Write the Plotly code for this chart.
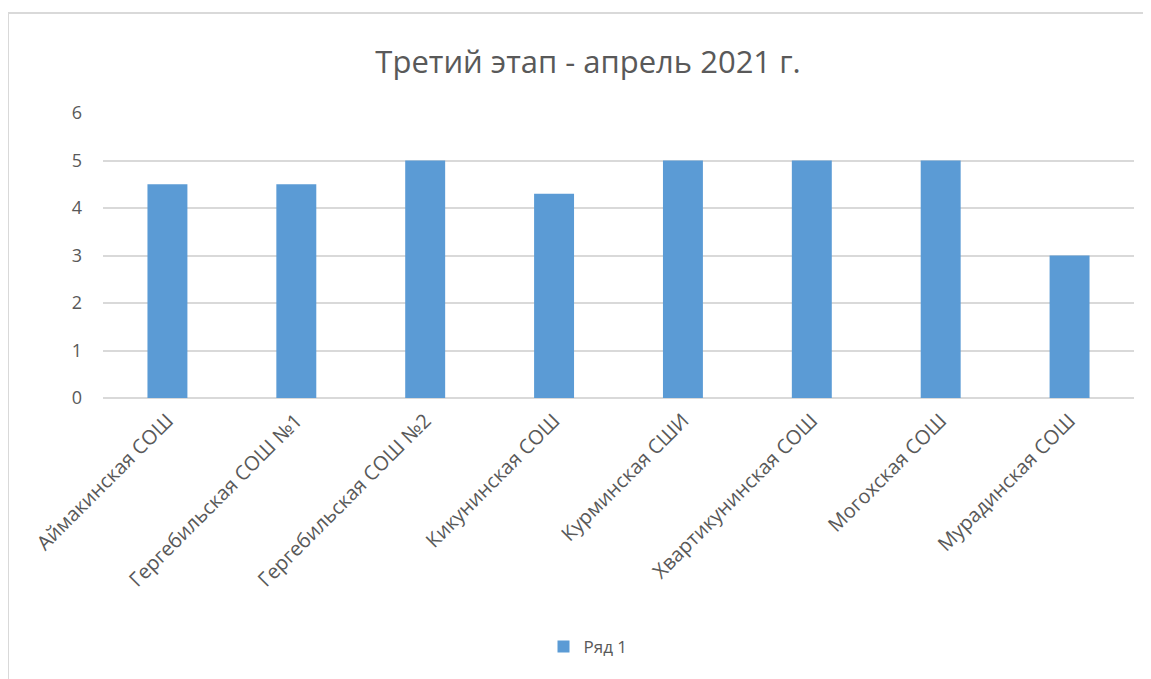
import plotly.graph_objects as go

categories = ["Аймакинская СОШ", "Гергебильская СОШ №1", "Гергебильская СОШ №2",
              "Кикунинская СОШ", "Курминская СШИ", "Хвартикунинская СОШ",
              "Могохская СОШ", "Мурадинская СОШ"]
values = [4.5, 4.5, 5, 4.3, 5, 5, 5, 3]
series_name = "Ряд 1"
title_text = "Третий этап - апрель 2021 г."

OFF = 8  # page offset of the plot div
W, H = 1151 - OFF, 679 - OFF
L, R, T, B = 103 - OFF, 17, 113 - OFF, 281
pw = W - L - R
ph = H - T - B

def px_x(x):
    return (x - OFF - L) / pw

def px_y(y):
    return (H - B - (y - OFF)) / ph

fig = go.Figure()
fig.add_trace(go.Bar(
    x=categories, y=values, name=series_name,
    marker=dict(color="#5b9bd5", line=dict(width=0)),
    showlegend=True,
))

fig.update_layout(
    width=W, height=H,
    margin=dict(l=L, r=R, t=T, b=B),
    paper_bgcolor="white", plot_bgcolor="white",
    font=dict(family="Open Sans, Noto Sans, sans-serif", color="#595959", size=16),
    title=dict(text=title_text, x=(588 - OFF) / W, xanchor="center",
               y=1 - (62 - OFF) / H, yanchor="middle",
               font=dict(size=31, color="#595959")),
    bargap=0.69,
    showlegend=True,
    legend=dict(orientation="h", x=px_x(588), xanchor="center",
                y=px_y(647), yanchor="middle",
                font=dict(size=17, color="#595959")),
    xaxis=dict(tickangle=-45, showgrid=False, showline=False, ticks="",
               ticklabelstandoff=6,
               tickfont=dict(size=20, color="#595959")),
    yaxis=dict(range=[0, 6], dtick=1, showgrid=True, gridcolor="#d9d9d9",
               gridwidth=2, zeroline=True, zerolinecolor="#d9d9d9", zerolinewidth=2,
               showline=False, ticks="", ticklabelstandoff=20,
               tickfont=dict(size=18, color="#595959")),
)

fig.add_shape(type="rect", xref="paper", yref="paper",
              x0=px_x(8), x1=px_x(1170), y0=px_y(700), y1=px_y(13),
              line=dict(color="#d9d9d9", width=2), fillcolor="rgba(0,0,0,0)",
              layer="below")

fig.write_html("out.html")
